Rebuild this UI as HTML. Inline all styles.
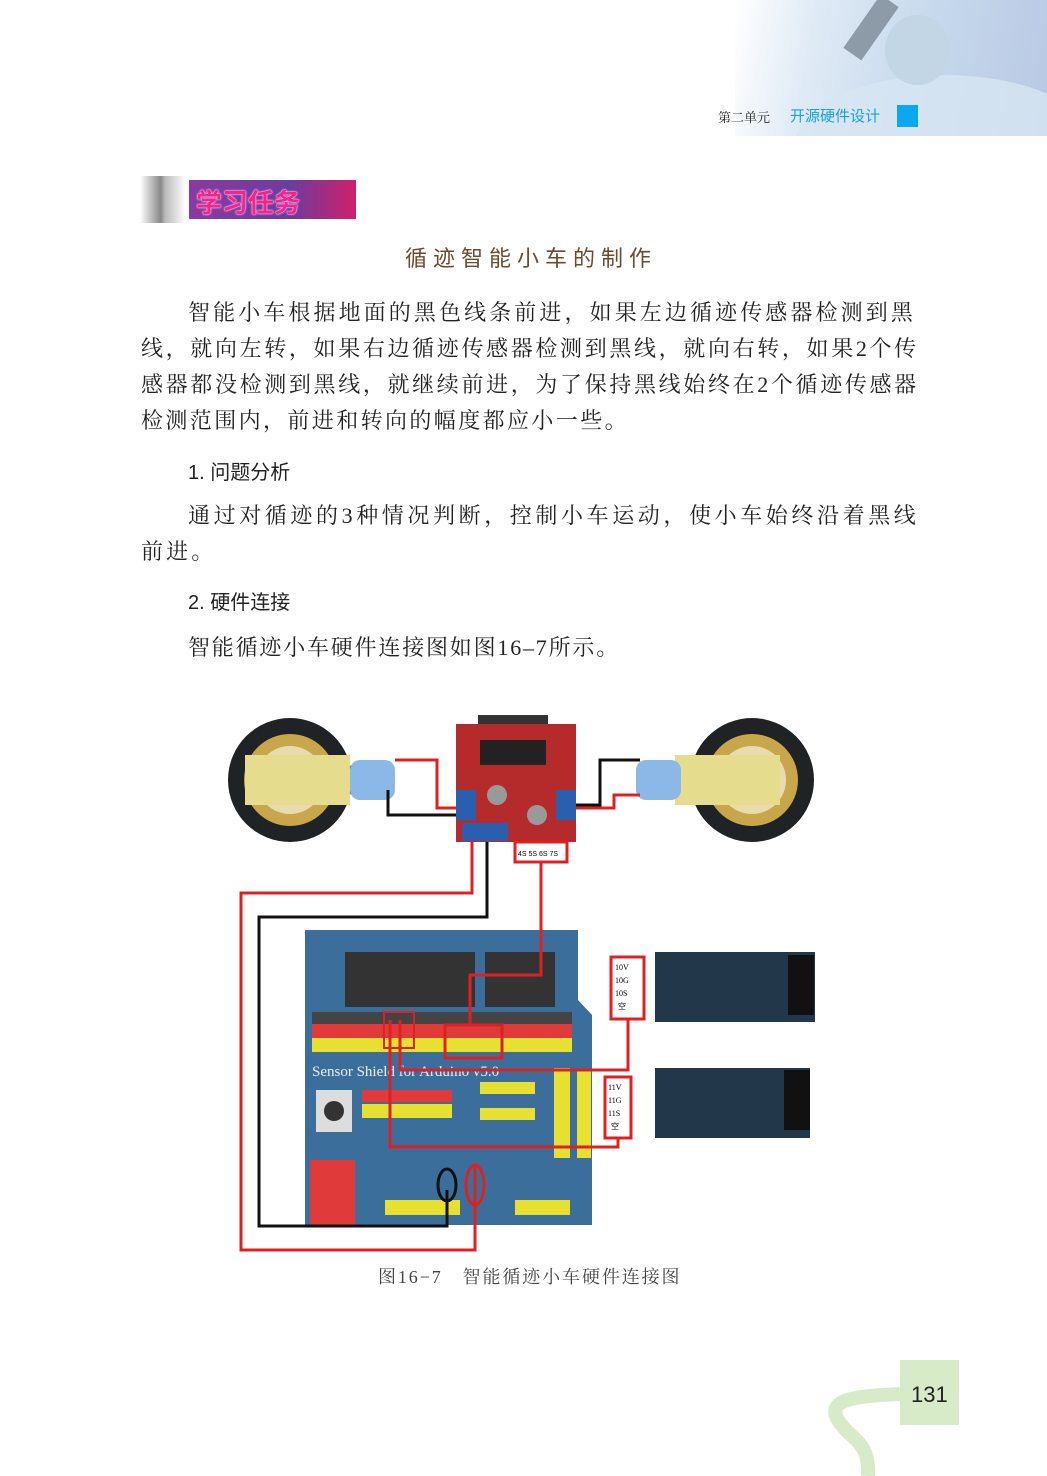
<!DOCTYPE html>
<html><head><meta charset="utf-8">
<style>
body{margin:0;background:#fff;}
#p{position:relative;width:1047px;height:1476px;overflow:hidden;font-family:"Liberation Serif","Noto Serif CJK SC",serif;color:#222;}
.t{position:absolute;white-space:nowrap;}
.para{font-size:22px;line-height:36px;letter-spacing:3.1px;}
.h{font-family:"Liberation Sans","Noto Sans CJK SC",sans-serif;font-size:20px;}
</style></head><body><div id="p">
<div style="position:absolute;left:735px;top:0;width:312px;height:136px;overflow:hidden;background:linear-gradient(100deg,#fff 0%,#dfeaf5 25%,#c6d9ec 60%,#b8c8e4 100%);">
<div style="position:absolute;left:60px;top:75px;width:300px;height:140px;border-radius:50%;background:#d7e6f3;opacity:.8;"></div>
<div style="position:absolute;left:150px;top:15px;width:65px;height:70px;border-radius:50%;background:#c3d6e6;"></div>
<div style="position:absolute;left:125px;top:-5px;width:22px;height:65px;background:#8d9aa8;transform:rotate(35deg);"></div>
</div>
<div class="t" style="left:718px;top:107px;font-size:13px;">第二单元</div>
<div class="t" style="left:790px;top:105px;font-size:15px;color:#18a0e0;font-family:'Liberation Sans','Noto Sans CJK SC',sans-serif;">开源硬件设计</div>
<div style="position:absolute;left:897px;top:105px;width:21px;height:22px;background:#0aa8ee;"></div>
<div style="position:absolute;left:140px;top:176px;width:46px;height:47px;background:linear-gradient(90deg,#fff,#888 45%,#bbb 55%,#fff);"></div>
<div style="position:absolute;left:189px;top:180px;width:167px;height:39px;background:linear-gradient(90deg,#8a3aa0,#6a3ca0 60%,#d0206a);"></div>
<div class="t" style="left:196px;top:183px;font-size:26px;font-weight:bold;color:#ff1e8c;font-family:'Liberation Sans','Noto Sans CJK SC',sans-serif;text-shadow:0 0 2px #fff,0 0 1px #fff;">学习任务</div>
<div class="t" style="left:405px;top:241px;font-size:22px;color:#6b4a30;letter-spacing:6px;font-family:'Noto Sans CJK SC',sans-serif;">循迹智能小车的制作</div>
<div class="t para" style="left:188px;top:295px;">智能小车根据地面的黑色线条前进，如果左边循迹传感器检测到黑</div>
<div class="t para" style="left:141px;top:331px;letter-spacing:2.65px;">线，就向左转，如果右边循迹传感器检测到黑线，就向右转，如果2个传</div>
<div class="t para" style="left:141px;top:367px;letter-spacing:2.65px;">感器都没检测到黑线，就继续前进，为了保持黑线始终在2个循迹传感器</div>
<div class="t para" style="left:141px;top:403px;letter-spacing:2.4px;">检测范围内，前进和转向的幅度都应小一些。</div>
<div class="t h" style="left:188px;top:456px;">1. 问题分析</div>
<div class="t para" style="left:188px;top:498px;letter-spacing:3.6px;">通过对循迹的3种情况判断，控制小车运动，使小车始终沿着黑线</div>
<div class="t para" style="left:141px;top:534px;">前进。</div>
<div class="t h" style="left:188px;top:586px;">2. 硬件连接</div>
<div class="t para" style="left:188px;top:630px;letter-spacing:1.8px;">智能循迹小车硬件连接图如图16–7所示。</div>
<svg style="position:absolute;left:0;top:0" width="1047" height="1476">
<circle cx="290" cy="780" r="62" fill="#1f2326"/><circle cx="290" cy="780" r="46" fill="#c8a64a"/><circle cx="290" cy="780" r="34" fill="#e8dcae"/>
<circle cx="752" cy="780" r="62" fill="#1f2326"/><circle cx="752" cy="780" r="46" fill="#c8a64a"/><circle cx="752" cy="780" r="34" fill="#e8dcae"/>
<rect x="245" y="755" width="105" height="50" fill="#e6dc8e"/><rect x="350" y="760" width="45" height="40" rx="10" fill="#8cb8e8"/>
<rect x="675" y="755" width="105" height="50" fill="#e6dc8e"/><rect x="636" y="760" width="45" height="40" rx="10" fill="#8cb8e8"/>
<rect x="478" y="715" width="70" height="25" fill="#333"/>
<rect x="456" y="724" width="120" height="118" fill="#b52a2a"/>
<rect x="480" y="740" width="66" height="25" fill="#222"/>
<rect x="456" y="790" width="20" height="30" fill="#2a5fb0"/><rect x="556" y="790" width="20" height="30" fill="#2a5fb0"/>
<rect x="462" y="823" width="46" height="18" fill="#2a5fb0"/>
<circle cx="497" cy="795" r="10" fill="#999"/><circle cx="537" cy="815" r="10" fill="#999"/>
<rect x="515" y="842" width="52" height="20" fill="#fff" stroke="#e02020" stroke-width="3"/>
<text x="518" y="856" font-size="7" font-family="Liberation Sans">4S 5S 6S 7S</text>
<path d="M305 930 H578 V1000 L592 1015 V1225 H305 Z" fill="#3c6e9c"/>
<rect x="345" y="952" width="130" height="55" fill="#333"/><rect x="485" y="952" width="70" height="55" fill="#333"/>
<rect x="312" y="1012" width="260" height="12" fill="#444"/>
<rect x="312" y="1024" width="260" height="14" fill="#e03a3a"/>
<rect x="312" y="1038" width="260" height="14" fill="#e8e030"/>
<rect x="362" y="1090" width="90" height="12" fill="#e03a3a"/><rect x="362" y="1104" width="90" height="14" fill="#e8e030"/>
<rect x="480" y="1082" width="55" height="12" fill="#e8e030"/><rect x="480" y="1108" width="55" height="12" fill="#e8e030"/>
<rect x="554" y="1068" width="16" height="90" fill="#e8e030"/><rect x="577" y="1070" width="14" height="88" fill="#e8e030"/>
<rect x="310" y="1160" width="45" height="65" fill="#e03a3a"/>
<rect x="385" y="1200" width="75" height="15" fill="#e8e030"/><rect x="515" y="1200" width="55" height="15" fill="#e8e030"/>
<rect x="316" y="1090" width="36" height="42" fill="#ddd"/><circle cx="334" cy="1111" r="10" fill="#333"/>
<text x="312" y="1076" font-size="15" fill="#e8eef4" font-family="Liberation Serif">Sensor Shield for Arduino v5.0</text>
<rect x="655" y="952" width="160" height="70" fill="#22384a"/><rect x="788" y="955" width="26" height="60" fill="#111"/>
<rect x="655" y="1068" width="155" height="70" fill="#22384a"/><rect x="784" y="1070" width="26" height="60" fill="#111"/>
<rect x="611" y="957" width="33" height="62" fill="#fff" stroke="#e02020" stroke-width="3"/>
<rect x="605" y="1077" width="26" height="61" fill="#fff" stroke="#e02020" stroke-width="3"/>
<g font-size="8" font-family="Liberation Serif"><text x="615" y="970">10V</text><text x="615" y="983">10G</text><text x="615" y="996">10S</text><text x="618" y="1009" font-family="Noto Sans CJK SC">空</text>
<text x="608" y="1090">11V</text><text x="608" y="1103">11G</text><text x="608" y="1116">11S</text><text x="611" y="1129" font-family="Noto Sans CJK SC">空</text></g>
<g fill="none" stroke-width="3">
<path d="M395 760 H437 V808 H456" stroke="#e02020"/>
<path d="M388 790 V815 H456" stroke="#111"/>
<path d="M576 805 H600 V760 H640" stroke="#111"/>
<path d="M576 808 H614 V795 H640" stroke="#e02020"/>
<path d="M472 842 V893 H241 V1250 H475 V1165" stroke="#e02020"/>
<path d="M487 842 V917 H259 V1226 H447 V1190" stroke="#111"/>
<path d="M541 862 V975 H470 V1025" stroke="#e02020"/>
<rect x="445" y="1025" width="57" height="33" stroke="#e02020"/>
<rect x="384" y="1012" width="30" height="36" stroke="#e02020" stroke-width="2"/>
<path d="M628 1019 V1070 H400 V1020" stroke="#e02020"/>
<path d="M618 1138 V1147 H390 V1020" stroke="#e02020"/>
<ellipse cx="447" cy="1185" rx="9" ry="16" stroke="#111"/>
<ellipse cx="475" cy="1185" rx="9" ry="20" stroke="#e02020"/>
</g>
<path d="M900 1394 C860 1396 825 1398 838 1420 C850 1440 870 1440 868 1476" fill="none" stroke="#d7ebc8" stroke-width="14"/>
<rect x="900" y="1360" width="59" height="65" fill="#d7ebc8"/>
</svg>
<div class="t" style="left:378px;top:1263px;font-size:18px;color:#444;letter-spacing:1.9px;">图16−7　智能循迹小车硬件连接图</div>
<div class="t" style="left:911px;top:1382px;font-size:22px;font-family:'Liberation Sans',sans-serif;color:#222;">131</div>
</div></body></html>
